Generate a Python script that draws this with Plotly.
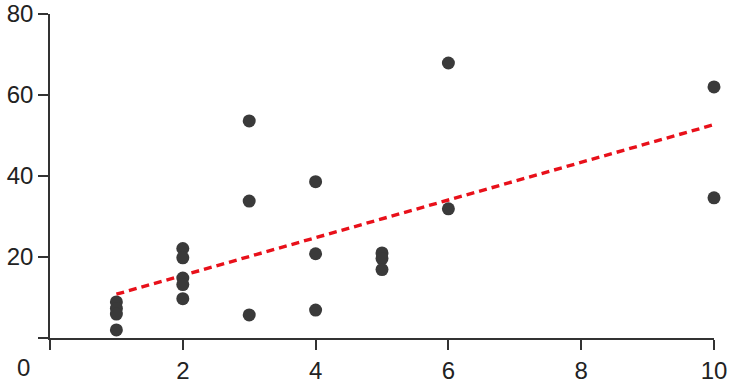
import numpy as np
import plotly.graph_objects as go

x_vals = [1, 1, 1, 1, 2, 2, 2, 2, 2, 3, 3, 3, 4, 4, 4, 5, 5, 5, 6, 6, 10, 10]
y_vals = [8.9, 7.3, 5.9, 2.0, 22.1, 19.8, 14.8, 13.2, 9.7, 53.6, 33.8, 5.7,
          38.6, 20.8, 6.9, 21.0, 19.6, 16.9, 67.9, 31.9, 62.0, 34.6]
x_ticks = [2, 4, 6, 8, 10]
y_ticks = [20, 40, 60, 80]

slope, intercept = np.polyfit(x_vals, y_vals, 1)
fit_x = [min(x_vals), max(x_vals)]
fit_y = [slope * v + intercept for v in fit_x]

W, H = 730, 382
L, R, T, B = 50, 16, 14, 44

fig = go.Figure()
fig.add_trace(go.Scatter(x=fit_x, y=fit_y, mode="lines",
                         line=dict(color="#e8101a", width=3.4, dash="8px,5px"),
                         showlegend=False, hoverinfo="skip", cliponaxis=False))
fig.add_trace(go.Scatter(x=x_vals, y=y_vals, mode="markers",
                         marker=dict(color="#3a3a3a", size=13, line=dict(width=0)),
                         showlegend=False, cliponaxis=False))

axis_font = dict(family="Liberation Sans, Arial, sans-serif", size=24, color="#222222")
common = dict(showgrid=False, zeroline=False, showline=True, linecolor="#333333", linewidth=1.5,
              ticks="outside", ticklen=10, tickwidth=1.5, tickcolor="#333333",
              tickfont=axis_font, automargin=False)
fig.update_layout(
    width=W, height=H,
    margin=dict(l=L, r=R, t=T, b=B),
    plot_bgcolor="white", paper_bgcolor="white",
    xaxis=dict(range=[0, 10], tickvals=[0] + x_ticks, ticktext=[""] + [str(v) for v in x_ticks], **common),
    yaxis=dict(range=[0, 80], tickvals=[0] + y_ticks, ticktext=[""] + [str(v) for v in y_ticks], **common),
    annotations=[dict(text="0", showarrow=False, font=axis_font, xref="paper", yref="paper",
                      x=(23 - L) / (W - L - R), y=-(367 - (H - B)) / (H - B - T),
                      xanchor="center", yanchor="middle")],
)
fig.write_html("out.html", config={"displayModeBar": False},
               post_script="document.body.style.margin='0px';document.body.style.overflow='hidden';")
